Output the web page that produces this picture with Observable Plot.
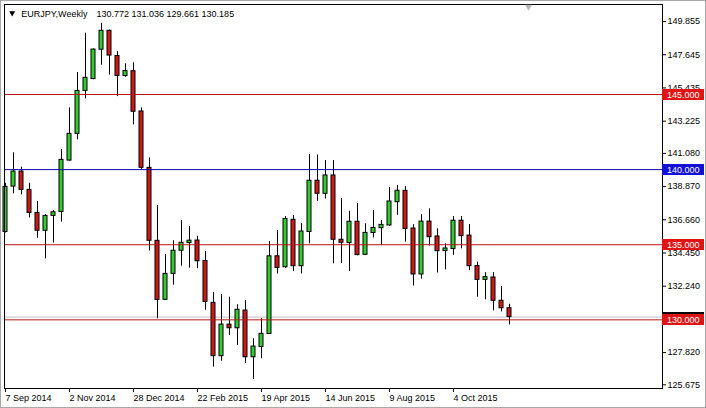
<!DOCTYPE html>
<html><head><meta charset="utf-8">
<script src="https://cdn.jsdelivr.net/npm/d3@7"></script>
<script src="https://cdn.jsdelivr.net/npm/@observablehq/plot@0.6"></script>
<style>
html,body{margin:0;padding:0;background:#fff;}
#chart{width:706px;height:408px;}
</style></head><body><div id="chart"></div>
<script>
// ---- data ----
const symbolLabel = "EURJPY,Weekly";
const headerValues = "130.772 131.036 129.661 130.185";
const firstWeek = "2014-09-07";
const open  = [135.85,138.87,139.87,138.65,137.12,135.93,136.92,137.18,140.60,142.38,145.24,146.03,147.98,149.24,147.56,146.23,
               146.55,143.87,140.12,135.26,131.33,133.06,134.60,135.11,135.28,133.92,131.13,127.58,129.68,129.44,130.62,127.51,
               128.19,129.06,134.23,133.50,136.66,133.57,135.85,139.26,138.39,139.61,135.33,135.11,136.53,134.33,135.78,136.10,
               136.28,137.83,138.59,136.08,133.02,136.54,135.55,134.58,134.71,136.60,135.61,133.58,132.66,132.82,131.27,130.772];
const high  = [139.09,141.12,140.16,139.09,137.88,137.01,137.28,141.34,144.11,146.46,149.08,148.03,149.74,149.29,147.86,147.04,
               147.11,144.11,140.78,137.61,134.35,135.26,136.61,136.21,135.56,134.55,131.81,131.69,131.51,131.00,131.29,128.74,
               130.07,135.21,135.95,136.88,136.94,136.41,141.00,140.97,140.60,140.60,138.08,137.22,137.74,136.39,137.28,136.61,
               138.81,138.94,138.87,136.34,137.00,137.39,136.06,135.06,136.88,136.88,136.34,133.84,133.14,133.14,132.22,131.036];
const low   = [135.78,138.39,138.32,136.79,135.43,134.06,135.11,136.50,140.56,141.98,144.71,145.98,146.95,146.29,144.86,146.15,
               142.98,139.97,134.59,130.07,131.30,132.30,133.57,133.44,133.40,130.64,126.85,127.25,128.96,128.29,127.09,126.03,
               127.41,129.02,133.05,133.44,133.22,133.06,135.06,137.89,138.04,133.73,133.75,133.22,134.26,134.28,135.45,134.95,
               136.23,136.96,135.17,132.25,132.72,134.91,133.12,133.33,134.30,134.73,133.28,131.51,131.33,130.60,130.53,129.661];
const close = [138.85,139.87,138.65,137.12,135.93,136.92,137.16,140.65,142.38,145.24,146.11,147.99,149.24,147.59,146.24,146.56,
               143.85,140.12,135.26,131.33,133.06,134.60,135.13,135.27,133.90,131.19,127.58,129.68,129.44,130.67,127.51,128.22,
               129.07,134.23,133.46,136.72,133.57,135.88,139.26,138.39,139.61,135.33,135.13,136.53,134.31,135.79,136.12,136.32,
               137.88,138.59,136.05,133.02,136.54,135.50,134.57,134.75,136.60,135.57,133.57,132.66,132.84,131.27,130.77,130.185];
const redLevels = [145, 135, 130];
const blueLevels = [140];
const bidPrice = 130.185;
const yTicks = [149.855,147.645,145.435,143.225,141.080,138.870,136.660,134.450,132.240,127.820,125.675];
const xTicks = ["2014-09-07","2014-11-02","2014-12-28","2015-02-22","2015-04-19","2015-06-14","2015-08-09","2015-10-04"];

// ---- styles ----
const bullFill = "#33cc33", bearFill = "#cc1a1a";
const lineRed = "#b81818", lineBlue = "#0a0aa8";
const tagRed = "#e01414", tagBlue = "#1010d8";
const font = "'Liberation Sans', Arial, sans-serif";

const DAY = 864e5, WEEK = 7 * DAY;
const t0 = new Date(firstWeek + "T00:00:00Z");
const candles = open.map((o, i) => ({
  date: new Date(+t0 + i * WEEK), open: o, high: high[i], low: low[i], close: close[i]
}));
const half = 0.25 * WEEK;
const xDomain = [new Date(+t0 - 0.125 * WEEK), new Date(+t0 + 82.125 * WEEK)];
const yDomain = [125.43, 150.99];
const W = 706, H = 408, mL = 4, mR = 44, mT = 4, mB = 20;

const bodyOpts = {
  x1: d => new Date(+d.date - half), x2: d => new Date(+d.date + half),
  y1: "open", y2: "close", stroke: "#000", strokeWidth: 1
};

const chart = Plot.plot({
  width: W, height: H, marginLeft: mL, marginRight: mR, marginTop: mT, marginBottom: mB,
  x: {type: "utc", domain: xDomain},
  y: {domain: yDomain},
  style: {fontFamily: font, fontSize: "9px", background: "#fff", color: "#000", overflow: "visible"},
  marks: [
    Plot.ruleY([bidPrice], {stroke: "#c0c0c0"}),
    Plot.ruleX(candles, {x: "date", y1: "low", y2: "high", stroke: "#000"}),
    Plot.rect(candles.filter(d => d.close >= d.open), {...bodyOpts, fill: bullFill}),
    Plot.rect(candles.filter(d => d.close < d.open), {...bodyOpts, fill: bearFill}),
    Plot.ruleY(redLevels, {stroke: lineRed}),
    Plot.ruleY(blueLevels, {stroke: lineBlue}),
    Plot.frame({stroke: "#000"}),
    Plot.axisY(yTicks, {anchor: "right", tickSize: 3, tickPadding: 2, tickFormat: d => d.toFixed(3), label: null, fontSize: 9}),
    Plot.axisX(xTicks.map(s => new Date(s + "T00:00:00Z")), {anchor: "bottom", tickSize: 4, tickPadding: 2,
      tickFormat: d3.utcFormat("%-d %b %Y"), textAnchor: "start", label: null, fontSize: 9}),
    Plot.dot([0], {frameAnchor: "top-left", dx: 7.7, dy: 8.5, symbol: "triangle", rotate: 180, r: 2.2, fill: "#000", stroke: "none"}),
    Plot.text([symbolLabel], {frameAnchor: "top-left", dx: 16.7, dy: 9.3, text: d => d, textAnchor: "start", lineAnchor: "middle", fontSize: 9, fill: "#000"}),
    Plot.text([headerValues], {frameAnchor: "top-left", dx: 92, dy: 9.3, text: d => d, textAnchor: "start", lineAnchor: "middle", fontSize: 9, fill: "#000"}),
    Plot.dot([0], {frameAnchor: "top-left", dx: 524, dy: 2.2, symbol: "triangle", rotate: 180, r: 2.6, fill: "#b8b8b8", stroke: "none"})
  ]
});

document.getElementById("chart").appendChild(chart);

// price tags on right axis
const svg = d3.select(chart);
const ys = chart.scale("y");
const tagX = W - mR;
function tag(v, fill, txt) {
  const y = ys.apply(v);
  const g = svg.append("g");
  g.append("rect").attr("x", tagX).attr("y", Math.round(y) - 5).attr("width", 42).attr("height", 11).attr("fill", fill);
  g.append("text").attr("x", tagX + 5).attr("y", Math.round(y) + 0.5).attr("dy", "0.35em")
    .attr("text-anchor", "start").attr("fill", "#fff").attr("font-size", 9).text(txt);
}
tag(bidPrice, "#000", bidPrice.toFixed(3));
redLevels.forEach(v => tag(v, tagRed, v.toFixed(3)));
blueLevels.forEach(v => tag(v, tagBlue, v.toFixed(3)));

// window border
svg.append("rect").attr("x", 0.5).attr("y", 0.5).attr("width", W - 1).attr("height", H - 1)
  .attr("fill", "none").attr("stroke", "#a8a8a8");
</script>
</body></html>
